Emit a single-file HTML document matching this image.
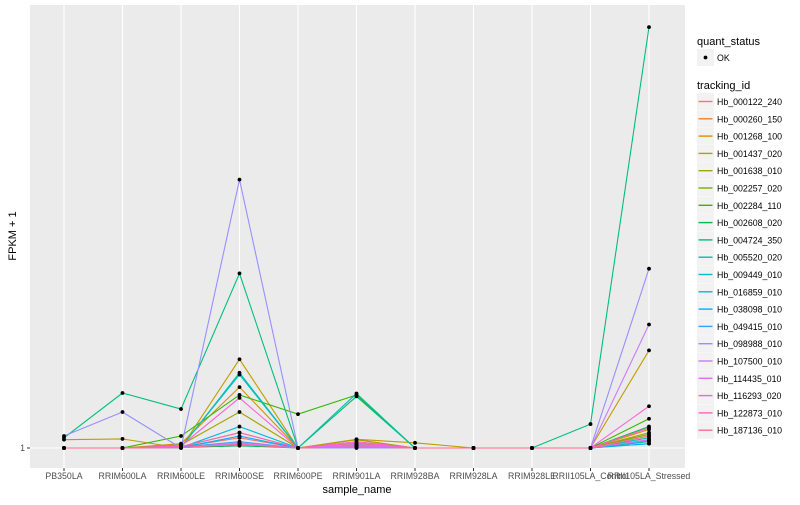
<!DOCTYPE html>
<html><head><meta charset="utf-8"><style>
body{margin:0;background:#fff;font-family:"Liberation Sans",sans-serif}
svg text{font-family:"Liberation Sans",sans-serif}
</style></head><body>
<svg width="800" height="500" id="c"></svg>
<script>
const categories=["PB350LA","RRIM600LA","RRIM600LE","RRIM600SE","RRIM600PE","RRIM901LA","RRIM928BA","RRIM928LA","RRIM928LE","RRII105LA_Control","RRII105LA_Stressed"];
const ids=["Hb_000122_240","Hb_000260_150","Hb_001268_100","Hb_001437_020","Hb_001638_010","Hb_002257_020","Hb_002284_110","Hb_002608_020","Hb_004724_350","Hb_005520_020","Hb_009449_010","Hb_016859_010","Hb_038098_010","Hb_049415_010","Hb_098988_010","Hb_107500_010","Hb_114435_010","Hb_116293_020","Hb_122873_010","Hb_187136_010"];
const colors=["#F8766D","#EA8331","#D89000","#C09B00","#A3A500","#7CAE00","#39B600","#00BB4E","#00BF7D","#00C1A3","#00BFC4","#00BAE0","#00B0F6","#35A2FF","#9590FF","#C77CFF","#E76BF3","#FA62DB","#FF62BC","#FF6C91"];
// FPKM+1 values per series, per category
const series=[
[1,1,1.02,1.25,1,1.05,1,1,1,1,1.2],
[1,1,1.03,1.4,1,1.2,1,1,1,1,1.3],
[1,1,1.1,3.8,1,1.1,1,1,1,1,1.5],
[1.2,1.22,1,7.0,1,1.21,1.12,1,1,1,8.5],
[1,1,1.07,2.2,1,1.2,1,1,1,1,1.4],
[1,1,1.02,1.1,1,1.08,1,1,1,1,1.35],
[1,1,1.3,3.2,2.1,3.2,1,1,1,1,1.9],
[1,1,1.01,1.05,1,1.04,1,1,1,1,1.6],
[1.25,3.34,2.35,46,1,3.1,1,1,1,1.69,10200],
[1,1,1.01,5.2,1,3.3,1,1,1,1,1.15],
[1,1,1.02,5.0,1,1.05,1,1,1,1,1.25],
[1,1,1.01,1.6,1,1.03,1,1,1,1,1.1],
[1,1,1.01,1.3,1,1.02,1,1,1,1,1.1],
[1,1,1.02,1.15,1,1.06,1,1,1,1,1.18],
[1.3,2.2,1,360,1,1,1,1,1,1,51],
[1,1,1.01,1.12,1,1.08,1,1,1,1,15],
[1,1,1.01,1.1,1,1.05,1,1,1,1,1.2],
[1,1,1.05,3.0,1,1.12,1,1,1,1,2.5],
[1,1,1.03,1.4,1,1.15,1,1,1,1,1.55],
[1,1,1.01,1.08,1,1.02,1,1,1,1,1.3]];
const yTicks=[1];
const NS="http://www.w3.org/2000/svg";
const svg=document.getElementById('c');
function mk(t,a,p){const e=document.createElementNS(NS,t);for(const k in a)e.setAttribute(k,a[k]);(p||svg).appendChild(e);return e;}
const L=30,R=685,T=5,B=468;
const xs=i=>64+i*(649-64)/(categories.length-1);
const ys=v=>448-105*Math.log10(v);
const panel=mk('rect',{x:L,y:T,width:R-L,height:B-T,fill:'#EBEBEB'});

categories.forEach((c,i)=>{
 const g=mk('line',{x1:xs(i),x2:xs(i),y1:T,y2:B,stroke:'#fff','stroke-width':1.1});
 
 mk('line',{x1:xs(i),x2:xs(i),y1:B,y2:B+3,stroke:'#333'});
 const t=mk('text',{x:xs(i),y:B+11,'font-size':8.8,fill:'#4D4D4D','text-anchor':'middle'});t.textContent=c;
 
});
yTicks.forEach(v=>{
 const g=mk('line',{x1:L,x2:R,y1:ys(v),y2:ys(v),stroke:'#fff','stroke-width':1.1});
 
 mk('line',{x1:L-3,x2:L,y1:ys(v),y2:ys(v),stroke:'#333'});
 const t=mk('text',{x:L-5,y:ys(v)+3,'font-size':8.8,fill:'#4D4D4D','text-anchor':'end'});t.textContent=v;
 
});
series.forEach((s,k)=>{
 const p=mk('polyline',{points:s.map((v,i)=>xs(i)+','+ys(v)).join(' '),fill:'none',stroke:colors[k],'stroke-width':1.1});
 
});
series.forEach((s,k)=>s.forEach((v,i)=>{
 const c=mk('circle',{cx:xs(i),cy:ys(v),r:1.9,fill:'#000'});
 
}));
let t=mk('text',{x:357,y:493,'font-size':11,'text-anchor':'middle',fill:'#000'});t.textContent='sample_name';

t=mk('text',{x:16,y:236,'font-size':11,'text-anchor':'middle',fill:'#000',transform:'rotate(-90 16 236)'});t.textContent='FPKM + 1';

t=mk('text',{x:697,y:45,'font-size':11,fill:'#000'});t.textContent='quant_status';

mk('rect',{x:697,y:49,width:17,height:17,fill:'#F2F2F2'});
mk('circle',{cx:705.5,cy:57.5,r:1.9,fill:'#000'});
t=mk('text',{x:717,y:61,'font-size':8.8,fill:'#000'});t.textContent='OK';

t=mk('text',{x:697,y:89,'font-size':11,fill:'#000'});t.textContent='tracking_id';

ids.forEach((id,k)=>{
 const y=93+k*17.3;
 mk('rect',{x:697,y:y,width:17,height:17,fill:'#F2F2F2'});
 mk('line',{x1:698.5,x2:712.5,y1:y+8.5,y2:y+8.5,stroke:colors[k],'stroke-width':1.4});
 const e=mk('text',{x:717,y:y+12,'font-size':8.8,fill:'#000'});e.textContent=id;
 
});
</script>
</body></html>
